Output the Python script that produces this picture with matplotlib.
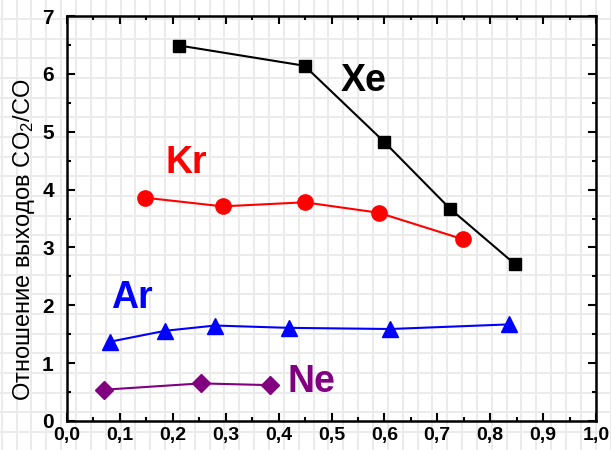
import numpy as np
import matplotlib
matplotlib.use("Agg")
import matplotlib.pyplot as plt
from matplotlib.lines import Line2D
from matplotlib.ticker import MultipleLocator, FuncFormatter

plt.rcParams['font.family'] = ['Liberation Sans', 'DejaVu Sans']
plt.rcParams['mathtext.fontset'] = 'custom'
plt.rcParams['mathtext.rm'] = 'Liberation Sans'
plt.rcParams['mathtext.it'] = 'Liberation Sans:italic'

# CO2/CO yield ratio per noble gas
xe_x = [0.212, 0.449, 0.599, 0.724, 0.847]
xe_y = [6.49, 6.14, 4.83, 3.67, 2.71]

kr_x = [0.147, 0.294, 0.449, 0.589, 0.749]
kr_y = [3.86, 3.71, 3.78, 3.60, 3.14]

ar_x = [0.081, 0.186, 0.280, 0.419, 0.611, 0.836]
ar_y = [1.37, 1.56, 1.65, 1.61, 1.59, 1.67]

ne_x = [0.069, 0.253, 0.383]
ne_y = [0.54, 0.65, 0.62]

W, H = 611, 450
fig = plt.figure(figsize=(W / 100, H / 100), dpi=100)
fig.patch.set_facecolor('white')

# graph-paper background over the whole figure
for px in np.arange(1.7, W, 14.85):
    fig.add_artist(Line2D([px / W, px / W], [0, 1], transform=fig.transFigure,
                          color='#ebebeb', lw=1.4, zorder=-10))
for py in np.arange(19 - 19.67, H, 19.67):
    fig.add_artist(Line2D([0, 1], [1 - py / H, 1 - py / H], transform=fig.transFigure,
                          color='#ebebeb', lw=1.4, zorder=-10))

ax = fig.add_axes([67 / W, 29 / H, 529 / W, 405 / H])
ax.set_facecolor('none')

ax.plot(xe_x, xe_y, color='black', lw=1.5, marker='s', ms=9)
ax.plot(kr_x, kr_y, color='#ff0000', lw=1.5, marker='o', ms=11)
ax.plot(ar_x, ar_y, color='#0000ff', lw=1.5, marker='^', ms=12)
ax.plot(ne_x, ne_y, color='#800080', lw=1.5, marker='D', ms=9)

lab = dict(fontsize=27, fontweight='bold', va='baseline', ha='left')
ax.text(0.517, 5.71, 'Xe', color='black', **lab)
ax.text(0.186, 4.29, 'Kr', color='#ff0000', **lab)
ax.text(0.083, 1.95, 'Ar', color='#0000ff', **lab)
ax.text(0.416, 0.50, 'Ne', color='#800080', **lab)

ax.set_xlim(0, 1.0)
ax.set_ylim(0, 7)
ax.xaxis.set_major_locator(MultipleLocator(0.1))
ax.xaxis.set_minor_locator(MultipleLocator(0.05))
ax.yaxis.set_major_locator(MultipleLocator(1))
ax.yaxis.set_minor_locator(MultipleLocator(0.5))
ax.xaxis.set_major_formatter(FuncFormatter(lambda v, p: f"{v:.1f}".replace('.', ',')))
ax.yaxis.set_major_formatter(FuncFormatter(lambda v, p: f"{v:.0f}"))

ax.tick_params(which='both', direction='in', top=True, right=True, width=1.5)
ax.tick_params(which='major', length=5.5)
ax.tick_params(which='minor', length=3)
ax.tick_params(axis='x', pad=4, labelsize=14)
ax.tick_params(axis='y', pad=9.5, labelsize=15)
for t in ax.get_xticklabels() + ax.get_yticklabels():
    t.set_fontweight('bold')
for s in ax.spines.values():
    s.set_linewidth(1.8)

fig.text(24 / W, 1 - 240 / H, 'Отношение выходов CO$_2$/CO', rotation=90,
         ha='center', va='center', fontsize=17)

fig.savefig('out.png', dpi=100)
